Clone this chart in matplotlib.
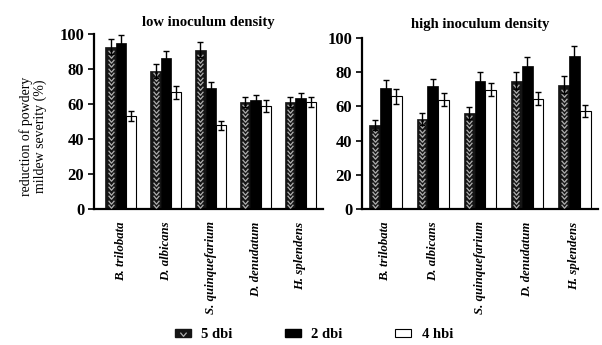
import numpy as np
import matplotlib
matplotlib.use("Agg")
import matplotlib.pyplot as plt
from matplotlib.path import Path
from matplotlib.patches import Patch
from matplotlib.lines import Line2D
from matplotlib.legend_handler import HandlerTuple

plt.rcParams['font.family'] = ['Liberation Serif', 'DejaVu Serif']

species = ["B. trilobata", "D. albicans", "S. quinquefarium", "D. denudatum", "H. splendens"]
series_names = ["5 dbi", "2 dbi", "4 hbi"]
panel_titles = ["low inoculum density", "high inoculum density"]

low_5dbi = [92.8, 79.0, 90.9, 61.0, 61.0]
low_5dbi_err = [4.3, 3.9, 4.3, 2.8, 2.8]
low_2dbi = [94.7, 86.1, 69.0, 62.3, 63.2]
low_2dbi_err = [4.7, 4.2, 3.4, 2.8, 3.3]
low_4hbi = [53.1, 66.7, 47.8, 59.0, 61.3]
low_4hbi_err = [2.9, 3.6, 2.7, 3.3, 2.9]

high_5dbi = [49.2, 52.7, 56.0, 75.0, 72.7]
high_5dbi_err = [2.9, 3.3, 3.6, 4.9, 4.8]
high_2dbi = [70.7, 71.7, 75.0, 83.4, 89.3]
high_2dbi_err = [4.5, 4.5, 4.9, 5.3, 5.8]
high_4hbi = [65.8, 63.9, 69.7, 64.5, 57.4]
high_4hbi_err = [4.3, 3.9, 3.9, 3.7, 3.5]

yticks = [0, 20, 40, 60, 80, 100]

chevron = Path([(-1, 0.6), (0, -0.6), (1, 0.6)], [Path.MOVETO, Path.LINETO, Path.LINETO])
DARK = "#151515"
CHEV = "#b0b0b0"

fig = plt.figure(figsize=(6.02, 3.45), dpi=100)
ax_l = fig.add_axes([94 / 602, 1 - 209 / 345, 229 / 602, 175 / 345])
ax_r = fig.add_axes([362 / 602, 1 - 209 / 345, 236 / 602, 171 / 345])

panels = [
    (ax_l, panel_titles[0], [(low_5dbi, low_5dbi_err), (low_2dbi, low_2dbi_err), (low_4hbi, low_4hbi_err)], (-0.6, 4.5), 6),
    (ax_r, panel_titles[1], [(high_5dbi, high_5dbi_err), (high_2dbi, high_2dbi_err), (high_4hbi, high_4hbi_err)], (-0.5, 4.5), 7),
]

w = 0.23
x = np.arange(len(species))
for ax, title, series, xl, tpad in panels:
    for i, (vals, errs) in enumerate(series):
        pos = x + (i - 1) * w
        if i == 0:
            ax.bar(pos, vals, width=w, color=DARK, edgecolor=DARK, linewidth=0.5, zorder=2)
            step = 2.6
            for p, v in zip(pos, vals):
                ys = np.arange(step * 0.6, v - step * 0.4, step)
                ax.plot(np.full_like(ys, p), ys, linestyle='none', marker=chevron,
                        markersize=4.2, markeredgewidth=0.9, markeredgecolor=CHEV,
                        markerfacecolor='none', zorder=3)
        elif i == 1:
            ax.bar(pos, vals, width=w, color="black", edgecolor="black", linewidth=0.5, zorder=2)
        else:
            ax.bar(pos, vals, width=w, color="white", edgecolor="black", linewidth=0.8, zorder=2)
        ax.errorbar(pos, vals, yerr=errs, fmt='none', ecolor='black', elinewidth=1.0,
                    capsize=2.2, capthick=1.0, zorder=4)
    ax.set_xlim(*xl)
    ax.set_ylim(0, 100)
    ax.set_yticks(yticks)
    ax.set_yticklabels([str(t) for t in yticks], fontsize=12, fontweight='bold')
    ax.set_xticks(x)
    ax.set_xticklabels(species, rotation=90, fontsize=9.2, fontweight='bold', fontstyle='italic',
                       ha='center', va='top')
    ax.tick_params(axis='x', length=0, pad=9)
    ax.tick_params(axis='y', direction='out', length=4, width=1.2, pad=3)
    for s in ['top', 'right']:
        ax.spines[s].set_visible(False)
    for s in ['left', 'bottom']:
        ax.spines[s].set_linewidth(1.6)
    ax.set_title(title, fontsize=10.5, fontweight='bold', pad=tpad)

fig.text(33 / 602, 1 - 136 / 345, "reduction of powdery\nmildew severity (%)", rotation=90,
         ha='center', va='center', fontsize=10, linespacing=1.1)

h1 = (Patch(facecolor=DARK, edgecolor=DARK),
      Line2D([], [], linestyle='none', marker=chevron, markersize=4.5, markeredgewidth=0.9,
             markeredgecolor=CHEV, markerfacecolor='none'))
h2 = Patch(facecolor='black', edgecolor='black')
h3 = Patch(facecolor='white', edgecolor='black', linewidth=0.8)
fig.legend([h1, h2, h3], series_names, loc='center', bbox_to_anchor=(314 / 602, 1 - 335 / 345),
           ncol=3, frameon=False, prop={'weight': 'bold', 'size': 10.5},
           handlelength=1.1, handleheight=0.45, handletextpad=0.7, columnspacing=3.6,
           handler_map={tuple: HandlerTuple(ndivide=1)})

fig.savefig("out.png", dpi=100)
